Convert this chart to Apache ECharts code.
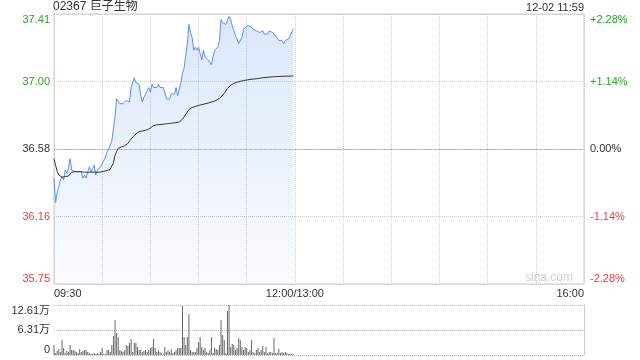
<!DOCTYPE html>
<html>
<head>
<meta charset="utf-8">
<style>html,body{margin:0;padding:0;background:#fff}#c{width:640px;height:360px}</style>
<script src="https://cdn.jsdelivr.net/npm/echarts@6/dist/echarts.min.js"></script>
</head>
<body>
<div id="c"></div>
<script>
// ---- data ----
var stockTitle = '02367 巨子生物';
var stampText = '12-02 11:59';
var prevClose = 36.58;
var pctRange = 2.28;
var priceTickLabels = ['35.75', '36.16', '36.58', '37.00', '37.41'];
var pctTickLabels = ['-2.28%', '-1.14%', '0.00%', '+1.14%', '+2.28%'];
var volTickLabels = ['0', '6.31万', '12.61万'];
var volMax = 12.61;
var timeLabels = { 0: '09:30', 150: '12:00/13:00', 330: '16:00' };

var prices = [
  36.40, 36.25, 36.31, 36.35, 36.39, 36.41, 36.39, 36.45, 36.43, 36.46,
  36.52, 36.45, 36.44, 36.44, 36.44, 36.44, 36.44, 36.44, 36.40, 36.42,
  36.40, 36.44, 36.47, 36.44, 36.46, 36.48, 36.42, 36.45, 36.45, 36.47,
  36.49, 36.51, 36.53, 36.56, 36.58, 36.57, 36.63, 36.62, 36.78, 36.89,
  36.89, 36.86, 36.86, 36.86, 36.87, 36.88, 36.89, 36.87, 36.96, 36.97,
  37.02, 36.99, 37.00, 36.98, 36.91, 36.87, 36.90, 36.92, 36.93, 36.96,
  36.93, 36.98, 36.96, 36.96, 36.96, 36.98, 36.96, 36.96, 36.96, 36.93,
  36.89, 36.89, 36.89, 36.92, 36.93, 36.92, 36.96, 36.91, 36.92, 36.99,
  37.05, 37.08, 37.09, 37.23, 37.35, 37.30, 37.27, 37.19, 37.21, 37.19,
  37.21, 37.20, 37.13, 37.19, 37.15, 37.16, 37.13, 37.12, 37.10, 37.15,
  37.19, 37.20, 37.21, 37.25, 37.38, 37.36, 37.35, 37.35, 37.36, 37.40,
  37.38, 37.34, 37.33, 37.28, 37.26, 37.23, 37.22, 37.27, 37.32, 37.33,
  37.34, 37.33, 37.34, 37.33, 37.32, 37.32, 37.31, 37.31, 37.30, 37.29,
  37.31, 37.29, 37.30, 37.29, 37.31, 37.31, 37.30, 37.30, 37.28, 37.27,
  37.25, 37.25, 37.25, 37.23, 37.25, 37.26, 37.26, 37.28, 37.28, 37.32
];

var avgPrices = [
  36.520, 36.480, 36.440, 36.420, 36.410, 36.405, 36.408, 36.410, 36.411, 36.413,
  36.425, 36.436, 36.440, 36.440, 36.440, 36.440, 36.440, 36.440, 36.438, 36.437,
  36.436, 36.436, 36.437, 36.437, 36.437, 36.437, 36.436, 36.436, 36.437, 36.438,
  36.440, 36.442, 36.444, 36.447, 36.451, 36.455, 36.475, 36.494, 36.540, 36.565,
  36.584, 36.589, 36.593, 36.597, 36.600, 36.603, 36.614, 36.629, 36.642, 36.654,
  36.663, 36.673, 36.682, 36.688, 36.690, 36.691, 36.693, 36.696, 36.699, 36.702,
  36.710, 36.718, 36.725, 36.728, 36.729, 36.730, 36.731, 36.732, 36.733, 36.734,
  36.736, 36.737, 36.738, 36.739, 36.741, 36.742, 36.742, 36.744, 36.747, 36.753,
  36.765, 36.778, 36.790, 36.809, 36.824, 36.832, 36.836, 36.840, 36.843, 36.846,
  36.849, 36.852, 36.854, 36.857, 36.859, 36.862, 36.864, 36.867, 36.870, 36.873,
  36.876, 36.881, 36.886, 36.893, 36.901, 36.910, 36.923, 36.935, 36.954, 36.966,
  36.974, 36.981, 36.986, 36.989, 36.993, 36.995, 36.998, 37.000, 37.003, 37.004,
  37.006, 37.008, 37.010, 37.011, 37.012, 37.013, 37.014, 37.016, 37.017, 37.019,
  37.020, 37.021, 37.022, 37.023, 37.024, 37.025, 37.026, 37.027, 37.027, 37.028,
  37.028, 37.029, 37.029, 37.029, 37.030, 37.030, 37.030, 37.031, 37.031, 37.031
];

// volume in 万 shares
var volumes = [
  2.52, 0.50, 1.01, 1.51, 0.76, 3.78, 1.77, 0.50, 1.01, 0.76,
  2.52, 1.26, 1.26, 1.01, 0.76, 0.50, 1.51, 0.76, 1.01, 1.26,
  1.26, 0.76, 0.50, 0.25, 0.25, 0.50, 0.25, 0.50, 0.25, 0.76,
  1.77, 0.25, 0.25, 1.26, 1.26, 0.76, 2.52, 4.79, 8.83, 5.55,
  4.54, 1.26, 1.01, 0.76, 1.26, 2.52, 2.27, 3.03, 4.04, 0.76,
  3.03, 3.03, 2.02, 1.26, 1.26, 0.76, 1.01, 1.26, 0.76, 1.26,
  1.77, 2.02, 4.04, 1.77, 0.76, 1.26, 0.76, 0.50, 0.25, 2.02,
  0.76, 1.26, 0.76, 1.51, 0.50, 0.76, 1.26, 1.77, 1.77, 1.77,
  12.36, 4.54, 2.52, 4.54, 10.34, 1.26, 0.76, 0.76, 0.76, 1.77,
  3.28, 4.54, 2.02, 1.26, 1.77, 0.76, 0.50, 1.26, 4.54, 0.50,
  1.77, 1.51, 1.26, 2.52, 8.83, 5.04, 3.78, 0.50, 11.10, 12.61,
  2.02, 2.77, 2.52, 1.26, 1.77, 4.29, 3.78, 2.02, 1.26, 2.02,
  1.77, 0.76, 1.26, 3.78, 0.76, 0.50, 1.26, 1.77, 0.76, 1.26,
  2.27, 0.76, 2.02, 0.50, 0.76, 0.76, 0.50, 4.29, 0.50, 0.50,
  1.51, 0.50, 0.76, 0.50, 0.76, 0.50, 0.25, 0.25, 0.25, 0.25
];

// ---- build ----
function toPct(p) { return (p / prevClose - 1) * 100; }
var priceData = prices.map(function (p, i) { return [i, toPct(p)]; });
var avgData = avgPrices.map(function (p, i) { return [i, toPct(p)]; });
var volData = volumes.map(function (v, i) { return [i, v]; });

var FONT = 'Arial, "Liberation Sans", "Noto Sans CJK SC", sans-serif';
var GREEN = '#22a622', RED = '#f03a3a', DARK = '#333';
var rich = {
  g: { color: GREEN, fontSize: 11, fontFamily: FONT },
  r: { color: RED, fontSize: 11, fontFamily: FONT },
  k: { color: DARK, fontSize: 11, fontFamily: FONT }
};
function tickIdx(v) { return Math.round((v + pctRange) / (pctRange / 2)); }
function styleFor(i) { return i > 2 ? 'g' : (i < 2 ? 'r' : 'k'); }

var chart = echarts.init(document.getElementById('c'), null, { renderer: 'canvas' });
chart.setOption({
  animation: false,
  textStyle: { fontFamily: FONT },
  title: [
    { text: stockTitle, left: 53, top: 1, padding: 0,
      textStyle: { fontSize: 12, fontWeight: 'normal', color: DARK, fontFamily: FONT } },
    { text: stampText, right: 56, top: 2, padding: 0,
      textStyle: { fontSize: 11, fontWeight: 'normal', color: DARK, fontFamily: FONT } }
  ],
  graphic: [
    { type: 'text', right: 67, top: 272, silent: true,
      style: { text: 'sina.com', fill: '#cfcfcf', font: '12px ' + FONT } }
  ],
  grid: [
    { left: 54, right: 56, top: 14, height: 270, show: true, borderColor: '#ccc', borderWidth: 1, backgroundColor: 'transparent' },
    { left: 54, right: 56, top: 305, height: 50, show: false }
  ],
  xAxis: [
    { type: 'value', gridIndex: 0, min: 0, max: 330, interval: 30,
      axisLine: { show: true, lineStyle: { color: '#ccc' } },
      axisTick: { show: false },
      splitLine: { show: true, lineStyle: { color: '#ccc', type: [1, 1], width: 1 } },
      axisLabel: { show: true, margin: 4, color: DARK, fontSize: 11, fontFamily: FONT,
        showMinLabel: true, showMaxLabel: true,
        alignMinLabel: 'left', alignMaxLabel: 'right',
        formatter: function (v) { return timeLabels[v] || ''; } } },
    { type: 'value', gridIndex: 1, min: 0, max: 330, interval: 30,
      axisLine: { show: false }, axisTick: { show: false }, axisLabel: { show: false }, splitLine: { show: false } }
  ],
  yAxis: [
    { type: 'value', gridIndex: 0, position: 'left', min: -pctRange, max: pctRange, interval: pctRange / 2,
      axisLine: { show: false }, axisTick: { show: false },
      splitLine: { show: true, lineStyle: { color: '#ccc', type: [1, 1], width: 1 } },
      axisLabel: { margin: 4, showMinLabel: true, showMaxLabel: true,
        verticalAlignMinLabel: 'bottom', verticalAlignMaxLabel: 'top',
        formatter: function (v) { var i = tickIdx(v); return '{' + styleFor(i) + '|' + priceTickLabels[i] + '}'; },
        rich: rich } },
    { type: 'value', gridIndex: 0, position: 'right', min: -pctRange, max: pctRange, interval: pctRange / 2,
      axisLine: { show: false }, axisTick: { show: false }, splitLine: { show: false },
      axisLabel: { margin: 6, showMinLabel: true, showMaxLabel: true,
        verticalAlignMinLabel: 'bottom', verticalAlignMaxLabel: 'top',
        formatter: function (v) { var i = tickIdx(v); return '{' + styleFor(i) + '|' + pctTickLabels[i] + '}'; },
        rich: rich } },
    { type: 'value', gridIndex: 1, position: 'left', min: 0, max: volMax, interval: volMax / 2,
      axisLine: { show: false }, axisTick: { show: false },
      splitLine: { show: true, lineStyle: { color: '#bbb', type: [1, 1], width: 1 } },
      axisLabel: { margin: 4, color: DARK, fontSize: 11, fontFamily: FONT,
        showMinLabel: true, showMaxLabel: true,
        verticalAlignMinLabel: 'bottom', verticalAlignMaxLabel: 'top',
        formatter: function (v) { return volTickLabels[Math.round(v / (volMax / 2))]; } } },
    { type: 'value', gridIndex: 1, position: 'right', min: 0, max: volMax,
      axisLine: { show: true, lineStyle: { color: '#ccc' } }, axisTick: { show: false },
      axisLabel: { show: false }, splitLine: { show: false } }
  ],
  series: [
    { type: 'line', xAxisIndex: 0, yAxisIndex: 0, data: priceData, showSymbol: false, symbol: 'none',
      lineStyle: { color: '#5b8ff0', width: 1 },
      areaStyle: { origin: 'start',
        color: new echarts.graphic.LinearGradient(0, 0, 0, 1, [
          { offset: 0, color: 'rgba(160,192,240,0.55)' },
          { offset: 1, color: 'rgba(160,192,240,0.07)' }
        ]) },
      markLine: { silent: true, symbol: ['none', 'none'], label: { show: false },
        lineStyle: { color: '#b5b5b5', type: [3, 2], width: 1 },
        data: [{ yAxis: 0 }] },
      z: 3 },
    { type: 'line', xAxisIndex: 0, yAxisIndex: 0, data: avgData, showSymbol: false, symbol: 'none',
      lineStyle: { color: '#333', width: 1 }, z: 4 },
    { type: 'bar', xAxisIndex: 1, yAxisIndex: 2, data: volData, barWidth: 1,
      itemStyle: { color: '#666' } }
  ]
});
</script>
</body>
</html>
